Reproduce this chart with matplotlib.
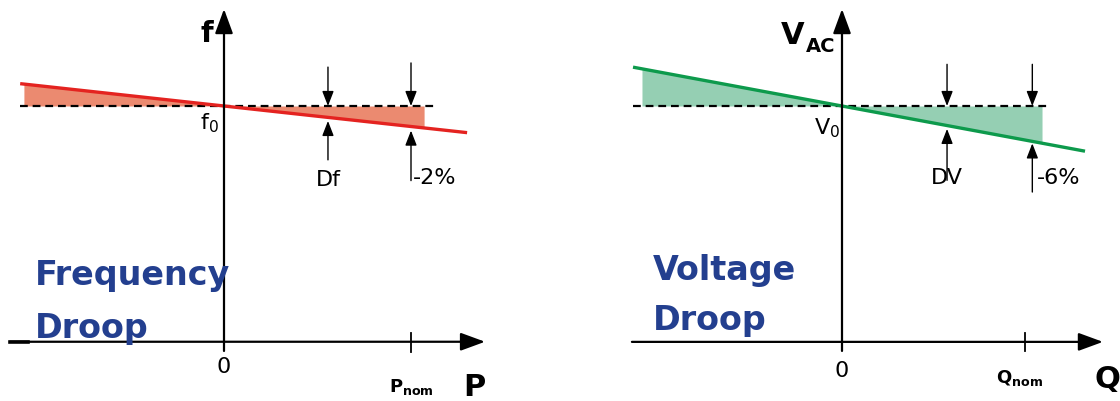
import numpy as np
import matplotlib.pyplot as plt

# droop at nominal power, percent
droop_pct = [2, 6]

# droop characteristic (x in units of nominal power, y in % deviation)
f_line_x = [-1.09, 1.30]
f_line_y = [2.18, -2.60]
f_fill_x = [-1.07, 0.0, 1.07]
f_fill_y = [2.14, 0.0, -2.14]

v_line_x = [-1.142, 1.328]
v_line_y = [6.85, -7.97]
v_fill_x = [-1.093, 0.0, 1.093]
v_fill_y = [6.56, 0.0, -6.56]

# where the small delta arrows sit
delta_x = [0.556, 0.574]
delta_y = [-1.11, -3.44]
delta_labels = ['Df', 'DV']

red = '#e42320'
salmon = '#eb8a70'
green = '#0d9a4c'
mint = '#95cfb3'
blue = '#233f8f'

fig = plt.figure(figsize=(11.2, 4.02), dpi=100)
axL = fig.add_axes([0, 0, 0.5, 1])
axR = fig.add_axes([0.5, 0, 0.5, 1])

axL.set_xlim(-224/187, (560-224)/187)
axL.set_ylim(-(402-107)/10.25, 107/10.25)
axR.set_xlim(-282/183, (560-282)/183)
axR.set_ylim(-(402-107)/5.67, 107/5.67)

small_arrow = dict(arrowstyle='-|>,head_length=0.9,head_width=0.35', color='black', lw=1.0, shrinkA=0, shrinkB=0)
big_arrow = dict(arrowstyle='-|>,head_length=1.5,head_width=0.55', color='black', lw=1.6, shrinkA=0, shrinkB=0)


def draw_axes(ax, y_bottom, y_top, x_axis_y, x_left, x_right, tick_len):
    ax.annotate('', xy=(0, y_top), xytext=(0, y_bottom), arrowprops=big_arrow)
    ax.annotate('', xy=(x_right, x_axis_y), xytext=(x_left, x_axis_y), arrowprops=big_arrow)
    ax.plot([1, 1], [x_axis_y + tick_len*0.55, x_axis_y - tick_len*0.6], color='black', lw=1.3)


# ---- frequency droop ----
ax = axL
ax.fill_between(f_fill_x, f_fill_y, 0, color=salmon, lw=0)
ax.plot([-1.09, 1.14], [0, 0], color='black', lw=1.6, ls=(0, (3.5, 2.2)))
ax.plot(f_line_x, f_line_y, color=red, lw=2.4, solid_capstyle='butt')
draw_axes(ax, -23.9, 9.46, -23.0, -1.144, 1.396, 1.6)
ax.plot([-1.144, -1.05], [-23.0, -23.0], color='black', lw=2.6)

ax.annotate('', xy=(delta_x[0], 0), xytext=(0, 28), textcoords='offset points', arrowprops=small_arrow)
ax.annotate('', xy=(1.0, 0), xytext=(0, 31), textcoords='offset points', arrowprops=small_arrow)
ax.annotate('', xy=(delta_x[0], delta_y[0] - 0.35), xytext=(0, -28), textcoords='offset points', arrowprops=small_arrow)
ax.annotate('', xy=(1.0, -droop_pct[0] - 0.4), xytext=(0, -36), textcoords='offset points', arrowprops=small_arrow)

ax.text(delta_x[0], -7.1, delta_labels[0], fontsize=16, ha='center', va='center')
ax.text(1.01, -6.9, '-%d%%' % droop_pct[0], fontsize=16, ha='left', va='center')
ax.text(-0.03, -0.4, r'f$_0$', fontsize=16, ha='right', va='top')
ax.text(-0.06, 7.1, 'f', fontsize=21, fontweight='bold', ha='right', va='center')
ax.text(0, -25.4, '0', fontsize=16, ha='center', va='center')
ax.text(1.0, -27.3, r'$\mathbf{P_{nom}}$', fontsize=13, ha='center', va='center')
ax.text(1.34, -27.4, 'P', fontsize=22, fontweight='bold', ha='center', va='center')
ax.text(-1.01, -17.4, 'Frequency', fontsize=24, fontweight='bold', color=blue, ha='left', va='baseline')
ax.text(-1.01, -22.5, 'Droop', fontsize=24, fontweight='bold', color=blue, ha='left', va='baseline')

# ---- voltage droop ----
ax = axR
ax.fill_between(v_fill_x, v_fill_y, 0, color=mint, lw=0)
ax.plot([-1.142, 1.12], [0, 0], color='black', lw=1.6, ls=(0, (3.5, 2.2)))
ax.plot(v_line_x, v_line_y, color=green, lw=2.4, solid_capstyle='butt')
draw_axes(ax, -43.2, 17.1, -41.6, -1.148, 1.426, 2.8)

ax.annotate('', xy=(delta_x[1], 0), xytext=(0, 30), textcoords='offset points', arrowprops=small_arrow)
ax.annotate('', xy=(1.04, 0), xytext=(0, 30), textcoords='offset points', arrowprops=small_arrow)
ax.annotate('', xy=(delta_x[1], delta_y[1] - 0.6), xytext=(0, -37), textcoords='offset points', arrowprops=small_arrow)
ax.annotate('', xy=(1.04, -droop_pct[1] - 0.6), xytext=(0, -35), textcoords='offset points', arrowprops=small_arrow)

ax.text(delta_x[1], -12.5, delta_labels[1], fontsize=16, ha='center', va='center')
ax.text(1.066, -12.5, '-%d%%' % droop_pct[1], fontsize=16, ha='left', va='center')
ax.text(-0.01, -1.6, r'V$_0$', fontsize=16, ha='right', va='top')
ax.text(-0.335, 12.6, 'V', fontsize=22, fontweight='bold', ha='left', va='center')
ax.text(-0.195, 10.6, 'AC', fontsize=14, fontweight='bold', ha='left', va='center')
ax.text(0, -46.6, '0', fontsize=16, ha='center', va='center')
ax.text(0.97, -47.8, r'$\mathbf{Q_{nom}}$', fontsize=13, ha='center', va='center')
ax.text(1.45, -48.1, 'Q', fontsize=22, fontweight='bold', ha='center', va='center')
ax.text(-1.033, -30.5, 'Voltage', fontsize=24, fontweight='bold', color=blue, ha='left', va='baseline')
ax.text(-1.033, -39.3, 'Droop', fontsize=24, fontweight='bold', color=blue, ha='left', va='baseline')

for a in (axL, axR):
    a.axis('off')

plt.savefig('out.png', dpi=100)
